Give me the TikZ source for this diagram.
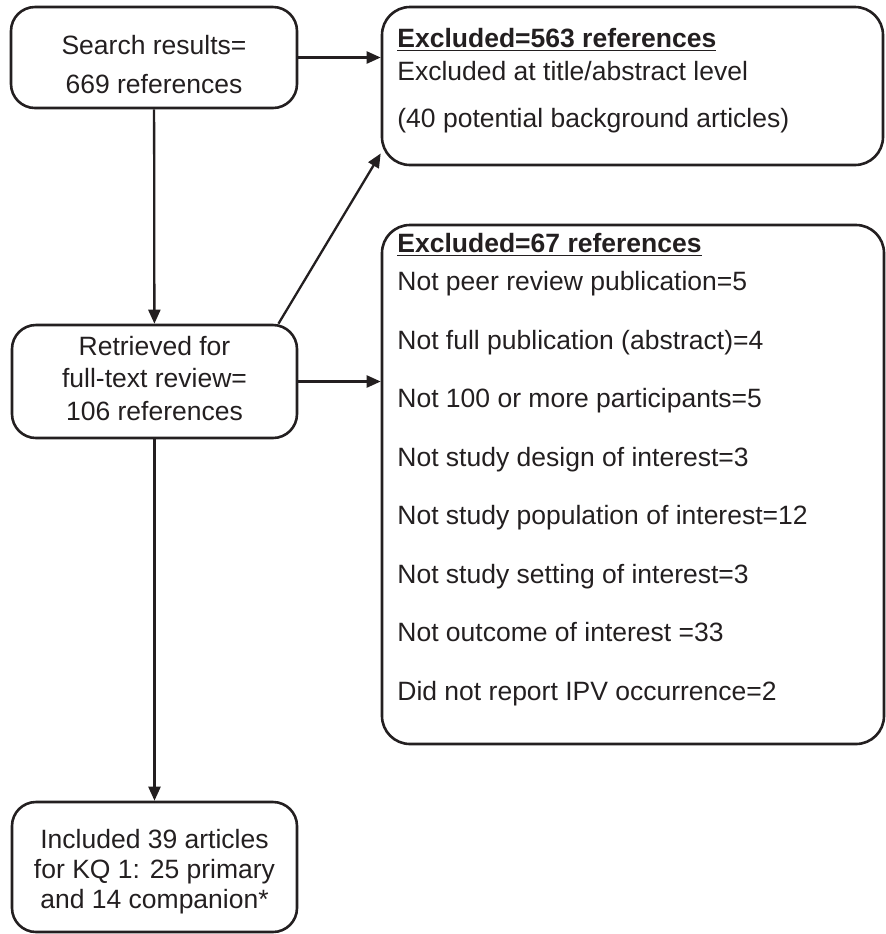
\documentclass[tikz,border=0pt]{standalone}
\usepackage{fontspec}
\setmainfont{Liberation Sans}
\usetikzlibrary{arrows.meta, positioning}
\definecolor{ink}{RGB}{35, 31, 32}

\tikzset{
  flowbox/.style={draw=ink, line width=1.3pt, rounded corners=12pt, align=center, inner sep=0pt, text=ink, text depth=0pt},
  listtext/.style={align=left, inner sep=0pt, anchor=base west, text=ink},
  flowarrow/.style={draw=ink, line width=1.15pt, -{Triangle[length=7pt, width=6pt]}}
}

\begin{document}
\begin{tikzpicture}[x=0.5pt, y=-0.5pt]
  \useasboundingbox (0,0) rectangle (886,934);

  % left column
  \node[flowbox, minimum width=143pt, minimum height=50.5pt, text height=35.5pt, font=\fontsize{13.25}{19.5}\selectfont] (search) at (154,57.5) {Search results=\\669 references};
  \node[flowbox, minimum width=142.5pt, minimum height=56.5pt, text height=38.5pt, font=\fontsize{13.25}{16.25}\selectfont] (fulltext) at (154.5,381.5) {Retrieved for\\full-text review=\\106 references};
  \node[flowbox, minimum width=142.5pt, minimum height=65pt, text height=41pt, font=\fontsize{13.25}{15}\selectfont] (included) at (154.5,867) {Included 39 articles\\for KQ 1: 25 primary\\and 14 companion*};

  % exclusion boxes
  \node[flowbox, rounded corners=14pt, minimum width=250.5pt, minimum height=79pt] (excltitle) at (632.5,86) {};
  \node[listtext, font=\fontsize{13.25}{16.5}\selectfont] (excltitletxt) at (397,127) {\underline{\textbf{Excluded=563 references}}\\Excluded at title/abstract level\\[7pt](40 potential background articles)};

  \node[flowbox, rounded corners=14pt, minimum width=251pt, minimum height=259.5pt] (exclfull) at (633,484.5) {};
  \node[listtext, font=\fontsize{13.25}{19}\selectfont] (exclfulltxt) at (397,700) {\underline{\textbf{Excluded=67 references}}\\
    Not peer review publication=5\\[10.25pt]
    Not full publication (abstract)=4\\[10.25pt]
    Not 100 or more participants=5\\[10.25pt]
    Not study design of interest=3\\[10.25pt]
    Not study population of interest=12\\[10.25pt]
    Not study setting of interest=3\\[10.25pt]
    Not outcome of interest =33\\[10.25pt]
    Did not report IPV occurrence=2};

  % connectors
  \draw[flowarrow] (search) -- (fulltext);
  \draw[flowarrow] (fulltext) -- (included);
  \draw[flowarrow] (search.east) -- (search.east -| excltitle.west);
  \draw[flowarrow] (fulltext.east) -- (fulltext.east -| exclfull.west);
  \draw[flowarrow] (fulltext.25) -- (excltitle.195);
\end{tikzpicture}
\end{document}
